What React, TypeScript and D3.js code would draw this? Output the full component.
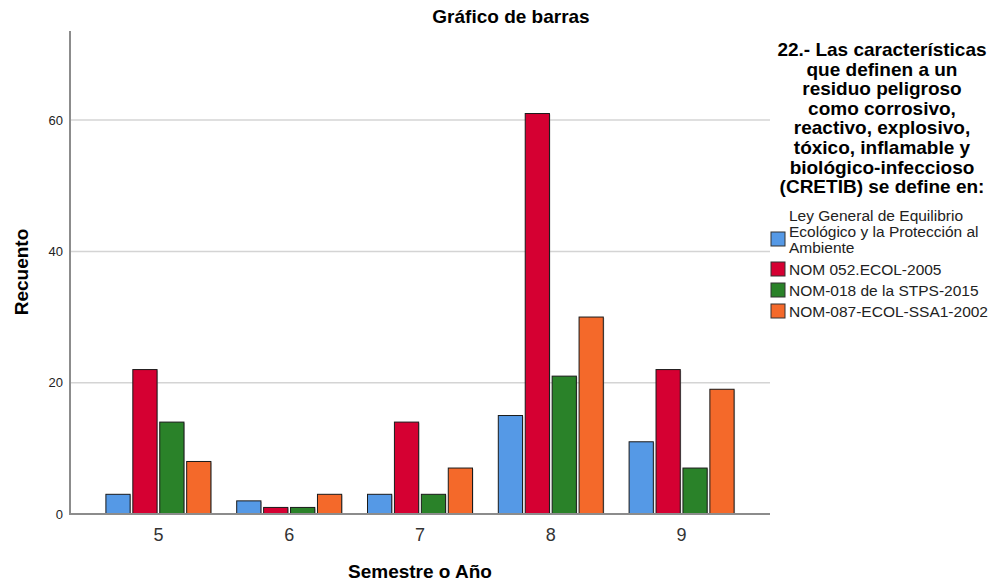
import React from "react";
import * as d3 from "d3";

const categories = ["5", "6", "7", "8", "9"];
const seriesNames = [
  "Ley General de Equilibrio Ecológico y la Protección al Ambiente",
  "NOM 052.ECOL-2005",
  "NOM-018 de la STPS-2015",
  "NOM-087-ECOL-SSA1-2002",
];
const seriesLegendLines = [
  ["Ley General de Equilibrio", "Ecológico y la Protección al", "Ambiente"],
  ["NOM 052.ECOL-2005"],
  ["NOM-018 de la STPS-2015"],
  ["NOM-087-ECOL-SSA1-2002"],
];
const leyGeneral = [3, 2, 3, 15, 11];
const nom052 = [22, 1, 14, 61, 22];
const nom018 = [14, 1, 3, 21, 7];
const nom087 = [8, 3, 7, 30, 19];
const seriesValues = [leyGeneral, nom052, nom018, nom087];
const colors = ["#5599e6", "#d50032", "#2a8229", "#f4692a"];
const yTicks = [0, 20, 40, 60];
const legendTitle = [
  "22.- Las características",
  "que definen a un",
  "residuo peligroso",
  "como corrosivo,",
  "reactivo, explosivo,",
  "tóxico, inflamable y",
  "biológico-infeccioso",
  "(CRETIB) se define en:",
];

const FONT = "'Liberation Sans', Arial, sans-serif";

export default function App() {
  const W = 992;
  const H = 586;
  const axisLeft = 70;
  const axisRight = 770;
  const y = d3.scaleLinear().domain([0, 73.57]).range([514, 31]);
  const x0 = d3.scaleBand<string>().domain(categories).range([93, 747]).padding(0);
  const groupW = 105;
  const x1 = d3
    .scaleBand<number>()
    .domain(seriesNames.map((_, i) => i))
    .range([0, groupW])
    .paddingInner(0.1)
    .paddingOuter(0);

  let legendY = 216;
  const legendItems = seriesLegendLines.map((lines, i) => {
    const top = legendY;
    legendY += lines.length === 1 ? 21 : 16 * lines.length + 4;
    return { lines, i, top };
  });

  return (
    <svg
      width={W}
      height={H}
      style={{ position: "absolute", left: 0, top: 0, background: "#fff" }}
      fontFamily={FONT}
    >
      <text x={511} y={23} textAnchor="middle" fontSize={19} fontWeight="bold" fill="#000">
        Gráfico de barras
      </text>

      {yTicks
        .filter((t) => t > 0)
        .map((t) => (
          <line
            key={"g" + t}
            x1={axisLeft + 1}
            x2={axisRight}
            y1={y(t)}
            y2={y(t)}
            stroke="#d4d4d4"
            strokeWidth={1.5}
          />
        ))}

      {categories.map((c, ci) =>
        seriesValues.map((vals, si) => {
          const bx = (x0(c) as number) + x0.bandwidth() / 2 - groupW / 2 + (x1(si) as number);
          return (
            <g key={c + "-" + si}>
              <rect
                x={bx + 1}
                y={y(vals[ci]) + 1}
                width={x1.bandwidth()}
                height={y(0) - y(vals[ci])}
                fill="#999"
                opacity={0.5}
              />
              <rect
                x={bx}
                y={y(vals[ci])}
                width={x1.bandwidth()}
                height={y(0) - y(vals[ci])}
                fill={colors[si]}
                stroke="#1a1a1a"
                strokeWidth={1}
              />
            </g>
          );
        })
      )}

      <line x1={axisLeft} x2={axisLeft} y1={31} y2={515} stroke="#8c8c8c" strokeWidth={2} />
      <line x1={axisLeft} x2={axisRight} y1={514} y2={514} stroke="#8c8c8c" strokeWidth={2} />

      {yTicks.map((t) => (
        <text key={"t" + t} x={63} y={y(t) + 4.5} textAnchor="end" fontSize={13} fill="#222">
          {t}
        </text>
      ))}
      {categories.map((c) => (
        <text
          key={"x" + c}
          x={(x0(c) as number) + x0.bandwidth() / 2}
          y={541}
          textAnchor="middle"
          fontSize={18}
          fill="#333"
        >
          {c}
        </text>
      ))}

      <text x={420} y={578} textAnchor="middle" fontSize={19} fontWeight="bold" fill="#000">
        Semestre o Año
      </text>
      <text
        transform="translate(28,272) rotate(-90)"
        textAnchor="middle"
        fontSize={19}
        fontWeight="bold"
        fill="#000"
      >
        Recuento
      </text>

      {legendTitle.map((l, i) => (
        <text
          key={"lt" + i}
          x={882}
          y={56 + i * 19.6}
          textAnchor="middle"
          fontSize={19}
          fontWeight="bold"
          fill="#000"
        >
          {l}
        </text>
      ))}

      {legendItems.map(({ lines, i, top }) => {
        const midY = top + (lines.length * 16) / 2;
        const swY = lines.length === 1 ? top - 6 : midY - 8;
        return (
          <g key={"li" + i}>
            <rect x={771} y={swY} width={14} height={14} fill={colors[i]} stroke="#333" strokeWidth={1} />
            {lines.map((ln, k) => (
              <text
                key={k}
                x={789}
                y={(lines.length === 1 ? top + 7 : top + 5 + k * 16)}
                fontSize={15.5}
                fill="#222"
              >
                {ln}
              </text>
            ))}
          </g>
        );
      })}
    </svg>
  );
}
